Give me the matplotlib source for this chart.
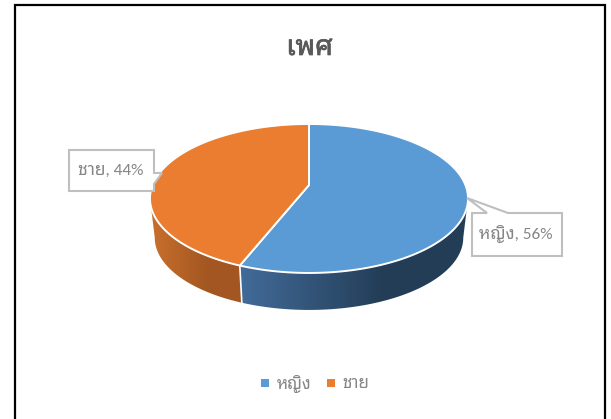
import numpy as np
import matplotlib
matplotlib.use('Agg')
import matplotlib.pyplot as plt
import matplotlib.patheffects as pe
from matplotlib.patches import Polygon, Rectangle
import logging

logging.getLogger('matplotlib.font_manager').setLevel(logging.ERROR)
plt.rcParams['font.family'] = ['Carlito', 'Noto Sans', 'Noto Sans Thai Looped', 'Noto Sans Thai', 'DejaVu Sans']

title = "เพศ"
categories = ["หญิง", "ชาย"]
values = [56, 44]
top_colors = ["#5B9BD5", "#EB7D31"]
# wall gradient, left end then right end
wall_colors = [((0.26, 0.42, 0.60), (0.14, 0.24, 0.34)),
               ((0.79, 0.44, 0.18), (0.64, 0.34, 0.13))]
grey_text = "#858585"
box_color = "#BFBFBF"

# pie geometry in pixels
CX, APEX_Y = 309, 185
K = 0.181
A, C = 156.4, 72.05
DEPTH_Y, DEPTH_S = 39.6, 0.97


def project(t, bottom=False):
    # t is clockwise from 12 o'clock, perspective squashes the far half
    u, v = np.sin(t), np.cos(t)
    w = 1 + K * v
    x, y = A * u / w, -C * v / w
    if bottom:
        return CX + x * DEPTH_S, APEX_Y + DEPTH_Y + y * DEPTH_S
    return CX + x, APEX_Y + y


fig = plt.figure(figsize=(6.11, 4.19), dpi=100)
ax = fig.add_axes([0, 0, 1, 1])
ax.axis('off')

# black frame of the screenshot
ax.plot([14.5, 14.5, 604.5, 604.5], [425, 5, 5, 425], color='black', lw=1.6, zorder=1,
        solid_joinstyle='miter')

shares = np.array(values) / sum(values)
edges = np.concatenate([[0], np.cumsum(shares)]) * 2 * np.pi
widest = np.arcsin(K)

# walls, only the part the viewer can see
for i in range(len(values)):
    t0 = max(edges[i], np.pi / 2 + widest)
    t1 = min(edges[i + 1], 3 * np.pi / 2 - widest)
    ts = np.linspace(t0, t1, 200)
    tx, ty = project(ts)
    bx, by = project(ts, bottom=True)
    outline = np.column_stack([np.r_[tx, bx[::-1]], np.r_[ty, by[::-1]]])
    xmin, xmax = outline[:, 0].min(), outline[:, 0].max()
    f = np.clip(np.linspace(0, 1, 256) * 1.6, 0, 1)[:, None]
    grad = (1 - f) * np.array(wall_colors[i][0]) + f * np.array(wall_colors[i][1])
    im = ax.imshow(grad[None, :, :], extent=(xmin, xmax, outline[:, 1].max(), outline[:, 1].min()),
                   aspect='auto', interpolation='bilinear', zorder=2)
    im.set_clip_path(Polygon(outline, closed=True, transform=ax.transData))

ax.set_xlim(0, 611)
ax.set_ylim(419, 0)

# white seam between the two walls
xs, ys = project(edges[1])
xb, yb = project(edges[1], bottom=True)
ax.plot([xs, xb], [ys, yb], color='white', lw=1.2, zorder=3)

# top face
for i in range(len(values)):
    ts = np.linspace(edges[i], edges[i + 1], 200)
    px, py = project(ts)
    pts = np.column_stack([np.r_[CX, px], np.r_[APEX_Y, py]])
    ax.add_patch(Polygon(pts, closed=True, facecolor=top_colors[i], edgecolor='white', lw=1.4,
                         joinstyle='round', zorder=4))

# the thai font has no bold face here so thicken it with a stroke
ax.text(309.5, 47.5, title, ha='center', va='center', fontsize=20, color='#595959', zorder=6,
        path_effects=[pe.withStroke(linewidth=0.5, foreground='#595959')])

# callouts
callouts = [
    [(472, 213), (487, 213), (467, 198), (508, 213), (562, 213), (562, 256), (472, 256)],
    [(69, 150), (154, 150), (154, 173), (162, 173), (154, 184), (154, 191), (69, 191)],
]
label_pos = [(516, 234), (111, 171)]
for i in range(len(values)):
    ax.add_patch(Polygon(callouts[i], closed=True, facecolor='white', edgecolor=box_color, lw=1.5, zorder=5))
    ax.text(*label_pos[i], f"{categories[i]}, {values[i]}%", ha='center', va='center',
            fontsize=12.5, color=grey_text, zorder=6)

# legend
legend_x = [261, 327]
for i in range(len(values)):
    ax.add_patch(Rectangle((legend_x[i], 379), 8, 8, facecolor=top_colors[i], edgecolor='none', zorder=5))
    ax.text(legend_x[i] + 15.5, 383.5, categories[i], ha='left', va='center', fontsize=12.2, color=grey_text, zorder=6)

fig.savefig('out.png', dpi=100)
